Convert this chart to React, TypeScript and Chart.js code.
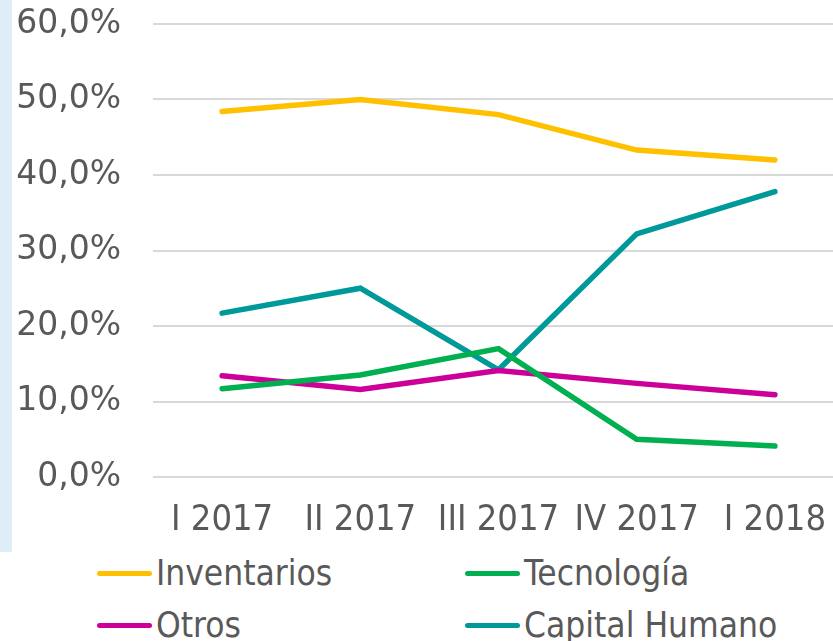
import React, { useEffect, useRef } from "react";
import { Chart, registerables } from "chart.js";

Chart.register(...registerables);

const categories = ["I 2017", "II 2017", "III 2017", "IV 2017", "I 2018"];
const inventarios = [48.4, 50.0, 48.0, 43.3, 42.0];
const tecnologia = [11.7, 13.5, 17.0, 5.0, 4.1];
const otros = [13.4, 11.6, 14.1, 12.4, 10.9];
const capitalHumano = [21.7, 25.0, 14.2, 32.2, 37.8];
const seriesNames = ["Inventarios", "Tecnología", "Otros", "Capital Humano"];
const seriesColors = ["#FFC000", "#00B050", "#CC0099", "#009999"];
const yMin = 0;
const yMax = 60;
const yStep = 10;

const seriesValues = [inventarios, tecnologia, otros, capitalHumano];
const legendOrder = [0, 1, 2, 3];

export default function App() {
  const ref = useRef<HTMLCanvasElement | null>(null);

  useEffect(() => {
    document.body.style.margin = "0";
    const ctx = ref.current;
    if (!ctx) return;
    const chart = new Chart(ctx, {
      type: "line",
      data: {
        labels: categories,
        datasets: seriesNames.map((name, i) => ({
          label: name,
          data: seriesValues[i],
          borderColor: seriesColors[i],
          backgroundColor: seriesColors[i],
          borderWidth: 5.5,
          borderCapStyle: "round" as const,
          borderJoinStyle: "miter" as const,
          pointRadius: 0,
          pointHoverRadius: 0,
          tension: 0,
          fill: false,
        })),
      },
      options: {
        animation: false,
        responsive: false,
        maintainAspectRatio: false,
        layout: { padding: { top: 24, right: 16, left: 0, bottom: 0 } },
        plugins: {
          legend: { display: false },
          tooltip: { enabled: false },
        },
        scales: {
          x: {
            offset: true,
            grid: { display: false },
            border: { display: false },
            ticks: {
              color: "#595959",
              font: { family: "'DejaVu Sans Condensed', 'DejaVu Sans'", size: 36 },
              padding: 14,
              maxRotation: 0,
              autoSkip: false,
            },
            afterFit: (scale: any) => {
              scale.height = 68;
              scale.paddingLeft = 0;
              scale.paddingRight = 0;
            },
          },
          y: {
            min: yMin,
            max: yMax,
            border: { display: false },
            grid: { color: "#D9D9D9", lineWidth: 2, drawTicks: false },
            ticks: {
              stepSize: yStep,
              color: "#595959",
              padding: 32,
              font: { family: "'DejaVu Sans'", size: 33 },
              callback: (v: any) => Number(v).toFixed(1).replace(".", ",") + "%",
            },
            afterFit: (scale: any) => {
              scale.width = 153;
              scale.paddingTop = 0;
              scale.paddingBottom = 0;
            },
          },
        },
      },
    });
    return () => chart.destroy();
  }, []);

  return (
    <div
      style={{
        position: "fixed",
        left: 0,
        top: 0,
        width: 833,
        height: 641,
        overflow: "hidden",
        background: "#FFFFFF",
      }}
    >
      <div
        style={{
          position: "absolute",
          left: 0,
          top: 0,
          width: 12,
          height: 552,
          background: "#DDEEF8",
        }}
      />
      <canvas
        ref={ref}
        width={860}
        height={545}
        style={{ position: "absolute", left: 0, top: 0, width: 860, height: 545 }}
      />
      {legendOrder.map((i, k) => {
        const col = k % 2;
        const row = Math.floor(k / 2);
        return (
          <div
            key={seriesNames[i]}
            style={{
              position: "absolute",
              left: col === 0 ? 97 : 465,
              top: (row === 0 ? 573 : 625) - 20,
              height: 40,
              display: "flex",
              alignItems: "center",
              whiteSpace: "nowrap",
            }}
          >
            <span
              style={{
                display: "inline-block",
                width: 55,
                height: 5,
                borderRadius: 3,
                background: seriesColors[i],
              }}
            />
            <span
              style={{
                marginLeft: 4,
                fontFamily: "'DejaVu Sans Condensed', 'DejaVu Sans', sans-serif",
                fontSize: 35,
                lineHeight: "40px",
                color: "#595959",
              }}
            >
              {seriesNames[i]}
            </span>
          </div>
        );
      })}
    </div>
  );
}
